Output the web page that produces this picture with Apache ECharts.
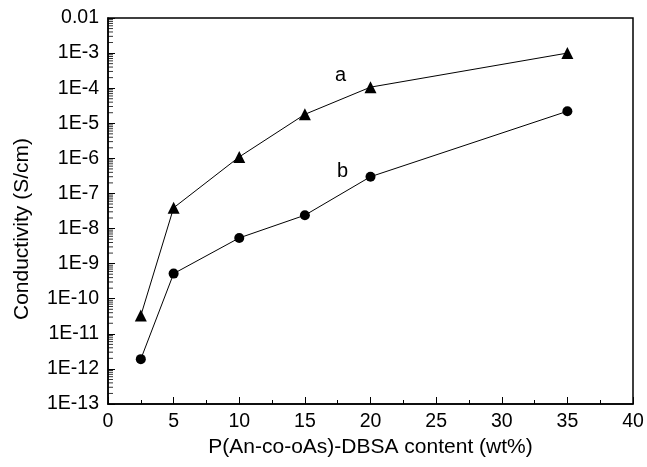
<!DOCTYPE html>
<html>
<head>
<meta charset="utf-8">
<script src="https://cdn.jsdelivr.net/npm/echarts@6/dist/echarts.min.js"></script>
<style>
  html, body { margin: 0; padding: 0; background: #fff; }
  #chart { width: 647px; height: 467px; }
</style>
</head>
<body>
<div id="chart"></div>
<script>
// wt% contents on the x axis
var contents = [2.5, 5, 10, 15, 20, 35];
// conductivity (S/cm) of curve a (triangles) and curve b (circles)
var curveA = [3.3e-11, 3.9e-8, 1.1e-6, 1.8e-5, 1.07e-4, 1.0e-3];
var curveB = [1.9e-12, 5.2e-10, 5.4e-9, 2.4e-8, 3.0e-7, 2.2e-5];
var curveNames = ['a', 'b'];
var labelIndex = 4; // point next to which the curve name is written
// decades of the log axis, minor ticks go at 2..9 inside each one
var decades = [-13, -12, -11, -10, -9, -8, -7, -6, -5, -4, -3];
var minorSteps = [2, 3, 4, 5, 6, 7, 8, 9];

var chart = echarts.init(document.getElementById('chart'));
var font = 'Liberation Sans';

function pairs(ys, name, offset) {
    return ys.map(function(v, i) {
        var item = { value: [contents[i], v] };
        if (i == labelIndex) {
            item.label = {
                show: true,
                formatter: name,
                position: 'inside',
                offset: offset,
                color: '#000',
                fontSize: 20,
                fontFamily: font
            };
        }
        return item;
    });
}

var minorTicks = [];
decades.forEach(function(d) {
    minorSteps.forEach(function(m) {
        minorTicks.push([0, m * Math.pow(10, d)]);
    });
});

var option = {
    backgroundColor: '#fff',
    animation: false,
    grid: { left: 108, right: 14, top: 18, bottom: 63 },
    xAxis: {
        type: 'value',
        min: 0,
        max: 40,
        interval: 5,
        name: 'P(An-co-oAs)-DBSA content (wt%)',
        nameLocation: 'middle',
        nameGap: 30,
        nameTextStyle: { color: '#000', fontSize: 21, fontFamily: font },
        axisLine: { onZero: false, lineStyle: { color: '#000', width: 1.5 } },
        axisTick: { inside: true, length: 7, lineStyle: { color: '#000' } },
        minorTick: { show: true, splitNumber: 2, length: 4, lineStyle: { color: '#000' } },
        axisLabel: { color: '#000', fontSize: 19.5, fontFamily: font, margin: 8 },
        splitLine: { show: false }
    },
    yAxis: {
        type: 'log',
        logBase: 10,
        min: 1e-13,
        max: 1e-2,
        interval: 1,
        name: 'Conductivity (S/cm)',
        nameLocation: 'middle',
        nameGap: 75,
        nameTextStyle: { color: '#000', fontSize: 21, fontFamily: font, padding: [0, 36, 0, 0] },
        axisLine: { lineStyle: { color: '#000', width: 1.5 } },
        axisTick: { inside: true, length: 7, lineStyle: { color: '#000' } },
        axisLabel: {
            color: '#000', fontSize: 19.5, fontFamily: font, margin: 9,
            formatter: function(v) {
                var e = Math.round(Math.log10(v));
                return e == -2 ? '0.01' : '1E' + e;
            }
        },
        splitLine: { show: false }
    },
    graphic: [{
        type: 'rect',
        shape: { x: 108, y: 18, width: 525, height: 386 },
        style: { fill: 'none', stroke: '#000', lineWidth: 1.5 },
        silent: true
    }],
    series: [{
        name: curveNames[0],
        type: 'line',
        data: pairs(curveA, curveNames[0], [-30, -12]),
        symbol: 'triangle',
        symbolSize: 12,
        itemStyle: { color: '#000' },
        lineStyle: { color: '#000', width: 1 }
    }, {
        name: curveNames[1],
        type: 'line',
        data: pairs(curveB, curveNames[1], [-28, -5]),
        symbol: 'circle',
        symbolSize: 10,
        itemStyle: { color: '#000' },
        lineStyle: { color: '#000', width: 1 }
    }, {
        // log-spaced minor ticks on the y axis
        type: 'scatter',
        silent: true,
        clip: false,
        data: minorTicks,
        symbol: 'rect',
        symbolSize: [5, 1],
        symbolOffset: [2.5, 0],
        itemStyle: { color: '#000' }
    }]
};

chart.setOption(option);
</script>
</body>
</html>
